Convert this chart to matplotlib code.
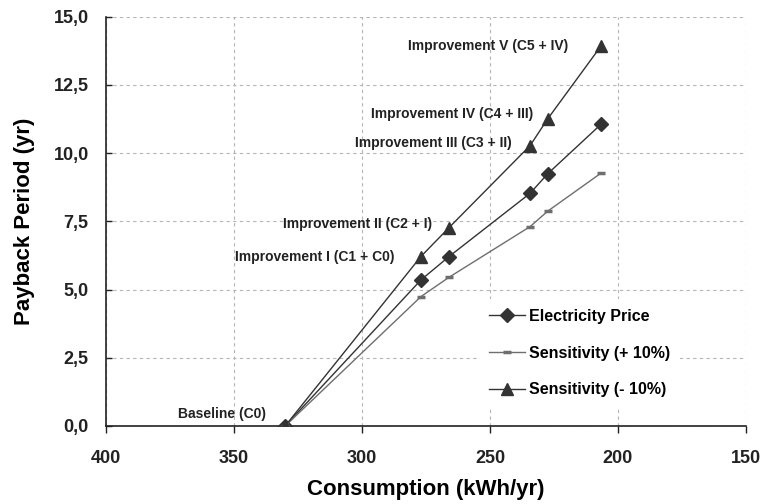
import matplotlib
matplotlib.use('Agg')
import matplotlib.pyplot as plt
from matplotlib.ticker import FuncFormatter

plt.rcParams['font.family'] = ['Liberation Sans', 'DejaVu Sans']
plt.rcParams['font.weight'] = 'bold'

# --- data ---
consumption = [330, 277, 266, 234.3, 227.5, 206.6]
price_base = [0.0, 5.35, 6.21, 8.53, 9.24, 11.06]
price_plus10 = [0.0, 4.74, 5.45, 7.31, 7.87, 9.27]
price_minus10 = [0.0, 6.21, 7.27, 10.28, 11.25, 13.93]
point_labels = ['Baseline (C0)', 'Improvement I (C1 + C0)', 'Improvement II (C2 + I)',
                'Improvement III (C3 + II)', 'Improvement IV (C4 + III)',
                'Improvement V (C5 + IV)']
series_names = ['Electricity Price', 'Sensitivity (+ 10%)', 'Sensitivity (- 10%)']

dark = '#333333'
grey = '#6e6e6e'

fig = plt.figure(figsize=(7.76, 5.04), dpi=100)
ax = fig.add_axes([0.1366, 0.1548, 0.8247, 0.812])

ax.plot(consumption, price_base, color=dark, lw=1.0, marker='D', ms=7,
        label=series_names[0], zorder=3)
ax.plot(consumption, price_plus10, color=grey, lw=1.0, marker='_', ms=6, mew=2.5,
        label=series_names[1], zorder=3)
ax.plot(consumption, price_minus10, color=dark, lw=1.0, marker='^', ms=9,
        label=series_names[2], zorder=3)

# point labels, right-aligned to the left of the triangle markers (offsets in points)
offsets = [(-13.7, 8.6), (-18.7, 0), (-12, 2.7), (-13.2, 1.7), (-10.6, 3.3), (-23.8, 0)]
for x, y, txt, (dx, dy) in zip(consumption, price_minus10, point_labels, offsets):
    ax.annotate(txt, (x, y), xytext=(dx, dy), textcoords='offset points',
                ha='right', va='center', fontsize=10, fontweight='bold', color='#222222')

ax.set_xlim(400, 150)
ax.set_ylim(0, 15)
ax.set_xticks([400, 350, 300, 250, 200, 150])
ax.set_yticks([0, 2.5, 5, 7.5, 10, 12.5, 15])
ax.yaxis.set_major_formatter(FuncFormatter(lambda v, p: f'{v:.1f}'.replace('.', ',')))
ax.tick_params(axis='x', labelsize=13, length=5, width=1, colors='#222222',
               direction='out', pad=12)
ax.tick_params(axis='y', labelsize=13, length=4, width=1, colors='#222222',
               direction='in', pad=12.5)
for lab in ax.get_xticklabels() + ax.get_yticklabels():
    lab.set_fontweight('bold')

ax.grid(True, color='#b5b5b5', linestyle=(0, (3, 3)), linewidth=0.8)
ax.set_axisbelow(True)
ax.spines['top'].set_visible(False)
ax.spines['right'].set_visible(False)
for side in ('left', 'bottom'):
    ax.spines[side].set_color('#222222')
    ax.spines[side].set_linewidth(1.2)

ax.set_xlabel('Consumption (kWh/yr)', fontsize=16, fontweight='bold', labelpad=9)
ax.set_ylabel('Payback Period (yr)', fontsize=16, fontweight='bold', labelpad=13)

leg = ax.legend(loc='center', bbox_to_anchor=(0.7406, 0.178), frameon=True,
                fontsize=11.5, handlelength=2.2, handletextpad=0.3,
                labelspacing=1.35, borderpad=0.6)
leg.get_frame().set_edgecolor('none')
leg.get_frame().set_facecolor('white')
leg.get_frame().set_alpha(1.0)
leg.get_frame().set_boxstyle('square', pad=0)
for t in leg.get_texts():
    t.set_fontweight('bold')

fig.savefig('out.png', dpi=100)
